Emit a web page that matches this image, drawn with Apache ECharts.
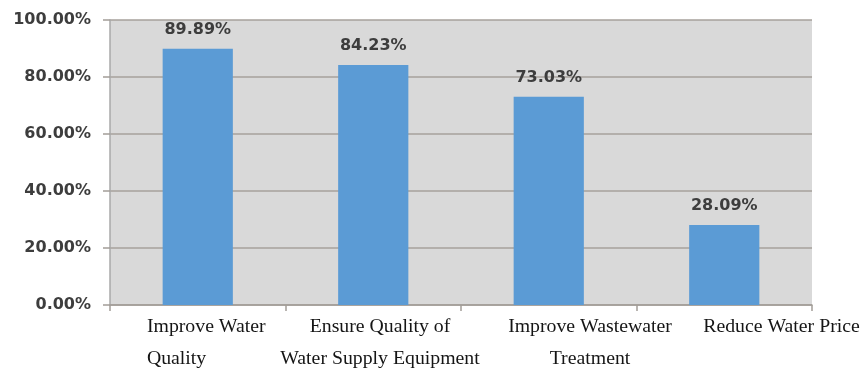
<!DOCTYPE html>
<html>
<head>
<meta charset="utf-8">
<script src="https://cdn.jsdelivr.net/npm/echarts@6/dist/echarts.min.js"></script>
<style>
  html, body { margin: 0; padding: 0; background: #ffffff; }
  #chart { width: 867px; height: 368px; }
</style>
</head>
<body>
<div id="chart"></div>
<script>
// Share of respondents choosing each improvement priority
const categories = [
  'Improve Water\nQuality',
  'Ensure Quality of\nWater Supply Equipment',
  'Improve Wastewater\nTreatment',
  'Reduce Water Price'
];
const shares = [0.8989, 0.8423, 0.7303, 0.2809];
const yTicks = [0, 0.2, 0.4, 0.6, 0.8, 1.0];

// Per-category label layout: line alignment and left padding (nudges the block right)
const labelStyles = [
  { align: 'left', padLeft: 17 },
  { align: 'center', padLeft: 13.5 },
  { align: 'center', padLeft: 82.5 },
  { align: 'center', padLeft: 114.5 }
];

const pct = v => (v * 100).toFixed(2) + '%';

const rich = {};
labelStyles.forEach((s, i) => {
  rich['c' + i] = {
    align: s.align,
    padding: [0, 0, 0, s.padLeft],
    fontFamily: '"Liberation Serif", "Times New Roman", serif',
    fontSize: 19.8,
    lineHeight: 32,
    color: '#151515'
  };
});

const numberFont = {
  fontFamily: '"DejaVu Sans", Verdana, sans-serif',
  fontWeight: 'bold',
  fontSize: 16,
  letterSpacing: 1,
  color: '#3d3d3d'
};

const axisGray = '#a39d98';

const chart = echarts.init(document.getElementById('chart'), null, { renderer: 'canvas' });

chart.setOption({
  animation: false,
  backgroundColor: '#ffffff',
  grid: {
    left: 110, right: 55, top: 20, bottom: 63,
    containLabel: false,
    outerBoundsMode: 'none',
    show: true, backgroundColor: '#d9d9d9', borderWidth: 0
  },
  xAxis: {
    type: 'category',
    data: categories,
    axisLine: { show: true, lineStyle: { color: axisGray, width: 1.5 } },
    axisTick: { show: true, length: 6, alignWithLabel: false, lineStyle: { color: axisGray, width: 1.5 } },
    axisLabel: {
      interval: 0,
      margin: 6,
      formatter: (value, idx) =>
        value.split('\n').map(line => '{c' + idx + '|' + line + '}').join('\n'),
      rich: rich
    }
  },
  yAxis: {
    type: 'value',
    min: yTicks[0],
    max: yTicks[yTicks.length - 1],
    interval: 0.2,
    axisLine: { show: true, lineStyle: { color: '#a8a8a8', width: 1.5 } },
    axisTick: { show: true, length: 7, lineStyle: { color: axisGray, width: 1.5 } },
    splitLine: { show: true, lineStyle: { color: '#a6a09b', width: 1.5 } },
    axisLabel: Object.assign({ margin: 19, formatter: pct }, numberFont)
  },
  series: [{
    type: 'bar',
    data: shares,
    barWidth: '40%',
    itemStyle: { color: '#5b9bd5' },
    label: Object.assign({
      show: true,
      position: 'top',
      distance: 11,
      formatter: p => pct(p.value)
    }, numberFont)
  }]
});
</script>
</body>
</html>
